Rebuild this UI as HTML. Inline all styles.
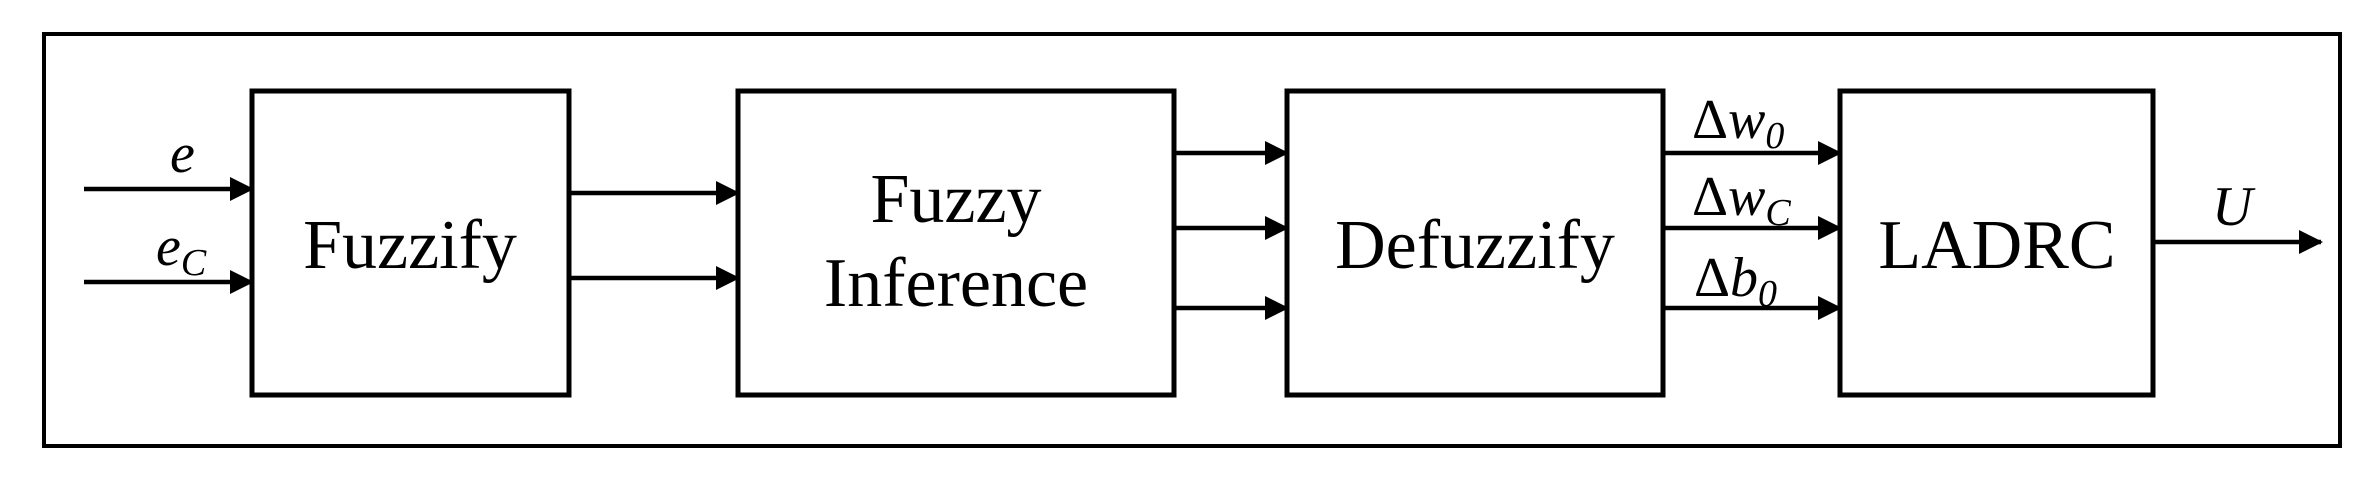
<!DOCTYPE html>
<html><head><meta charset="utf-8"><style>
html,body{margin:0;padding:0;background:#fff;}
svg{display:block;}
text{font-family:"Liberation Serif",serif;fill:#000;}
.m{font-style:italic;font-size:56px;}
.s{font-style:italic;font-size:38px;}
.b{font-size:70px;}
</style></head><body>
<svg width="2370" height="478" viewBox="0 0 2370 478">
<defs><marker id="a" markerWidth="24" markerHeight="24" refX="22" refY="12" orient="auto" markerUnits="userSpaceOnUse"><path d="M0,0 L24,12 L0,24 Z" fill="#000"/></marker></defs>
<rect x="44" y="34" width="2296" height="412" fill="none" stroke="#000" stroke-width="4"/>
<g fill="none" stroke="#000" stroke-width="5">
<rect x="252" y="91" width="317" height="304"/>
<rect x="738" y="91" width="436" height="304"/>
<rect x="1287" y="91" width="376" height="304"/>
<rect x="1840" y="91" width="313" height="304"/>
</g>
<g stroke="#000" stroke-width="4.5" marker-end="url(#a)">
<line x1="84" y1="189" x2="252" y2="189"/>
<line x1="84" y1="282" x2="252" y2="282"/>
<line x1="571" y1="193" x2="738" y2="193"/>
<line x1="571" y1="278" x2="738" y2="278"/>
<line x1="1176" y1="153" x2="1287" y2="153"/>
<line x1="1176" y1="228" x2="1287" y2="228"/>
<line x1="1176" y1="308" x2="1287" y2="308"/>
<line x1="1665" y1="153" x2="1840" y2="153"/>
<line x1="1665" y1="228" x2="1840" y2="228"/>
<line x1="1665" y1="308" x2="1840" y2="308"/>
<line x1="2155" y1="242" x2="2321" y2="242"/>
</g>
<text class="b" x="410" y="268" text-anchor="middle">Fuzzify</text>
<text class="b" x="956" y="222" text-anchor="middle">Fuzzy</text>
<text class="b" x="956" y="306" text-anchor="middle">Inference</text>
<text class="b" x="1475" y="268" text-anchor="middle">Defuzzify</text>
<text class="b" x="1997" y="268" text-anchor="middle">LADRC</text>
<text class="m" x="170" y="172">e</text>
<text class="m" x="156" y="265">e<tspan class="s" dy="10">C</tspan></text>
<text class="m" x="1692" y="138"><tspan font-style="normal">Δ</tspan>w<tspan class="s" font-style="normal" dy="10">0</tspan></text>
<text class="m" x="1692" y="215"><tspan font-style="normal">Δ</tspan>w<tspan class="s" dy="10">C</tspan></text>
<text class="m" x="1694" y="296"><tspan font-style="normal">Δ</tspan>b<tspan class="s" font-style="normal" dy="10">0</tspan></text>
<text class="m" x="2212" y="225">U</text>
</svg>
</body></html>
